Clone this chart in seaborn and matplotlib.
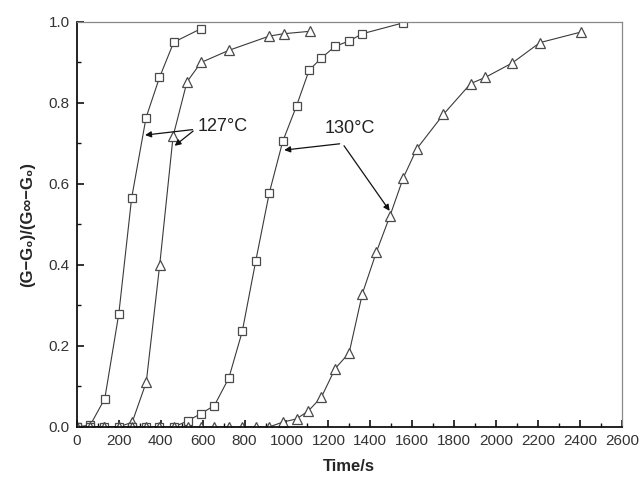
import matplotlib
matplotlib.use("Agg")
import matplotlib.pyplot as plt
import seaborn as sns
import numpy as np
import pandas as pd

# ---- data ----
t_127_sq = [0, 64, 133, 200, 261, 330, 394, 462, 590]
y_127_sq = [0.0, 0.005, 0.07, 0.28, 0.565, 0.764, 0.863, 0.95, 0.983]

t_127_tri = [0, 64, 130, 200, 264, 331, 395, 459, 525, 592, 725, 917, 986, 1112]
y_127_tri = [0.0, 0.0, 0.0, 0.0, 0.012, 0.111, 0.40, 0.718, 0.852, 0.90, 0.93, 0.965, 0.971, 0.977]

t_130_sq = [0, 64, 130, 200, 264, 330, 394, 462, 528, 592, 656, 725, 789, 853, 918, 982, 1048, 1108,
            1167, 1232, 1299, 1362, 1558]
y_130_sq = [0.0, 0.0, 0.0, 0.0, 0.0, 0.0, 0.0, 0.0, 0.015, 0.033, 0.053, 0.121, 0.236, 0.409, 0.578,
            0.705, 0.793, 0.881, 0.911, 0.94, 0.953, 0.971, 0.998]

t_130_tri = [0, 64, 130, 200, 264, 330, 394, 462, 528, 592, 656, 725, 789, 853, 917, 982, 1048, 1105,
             1167, 1232, 1299, 1362, 1429, 1493, 1558, 1622, 1749, 1879, 1948, 2078, 2209, 2404]
y_130_tri = [0.0, 0.0, 0.0, 0.0, 0.0, 0.0, 0.0, 0.0, 0.0, 0.0, 0.0, 0.0, 0.0, 0.0, 0.0, 0.012, 0.02, 0.04,
             0.074, 0.144, 0.183, 0.329, 0.432, 0.52, 0.616, 0.687, 0.772, 0.848, 0.863, 0.899, 0.949, 0.975]

x_ticks = [0, 200, 400, 600, 800, 1000, 1200, 1400, 1600, 1800, 2000, 2200, 2400, 2600]
y_ticks = [0.0, 0.2, 0.4, 0.6, 0.8, 1.0]

sns.set_theme(style="white")
plt.rcParams['font.family'] = ['Liberation Sans', 'DejaVu Sans']

fig = plt.figure(figsize=(6.41, 4.78), dpi=100)
ax = fig.add_axes([0.120, 0.1067, 0.850, 0.8473])

line_col = "#3a3a3a"
edge_col = "#4a4a4a"
series = [
    (t_127_sq, y_127_sq, "s"),
    (t_127_tri, y_127_tri, "^"),
    (t_130_sq, y_130_sq, "s"),
    (t_130_tri, y_130_tri, "^"),
]
for t, y, m in series:
    df = pd.DataFrame({"t": t, "y": y})
    sns.lineplot(data=df, x="t", y="y", ax=ax, color=line_col, linewidth=0.8,
                 marker=m, markersize=6 if m == "s" else 7.5, markerfacecolor="white",
                 markeredgecolor=edge_col, markeredgewidth=0.9, sort=False, legend=False)

ax.set_xlim(0, 2600)
ax.set_ylim(0, 1.0)
ax.set_xticks(x_ticks)
ax.set_xticklabels([str(v) for v in x_ticks])
ax.set_yticks(y_ticks)
ax.set_yticklabels([f"{v:.1f}" for v in y_ticks])
ax.set_xticks(np.arange(100, 2600, 200), minor=True)
ax.set_yticks(np.arange(0.1, 1.0, 0.2), minor=True)
ax.tick_params(axis="both", which="major", direction="in", length=5, width=1.2,
               labelsize=11, colors="#111", labelcolor="#333", pad=5)
ax.tick_params(axis="both", which="minor", direction="in", length=3, width=1.0, colors="#111")
ax.tick_params(top=False, right=False, which="both")
ax.tick_params(axis="x", bottom=True, which="both")
ax.tick_params(axis="y", left=True, which="both")

for s in ["bottom", "left"]:
    ax.spines[s].set_color("#111")
    ax.spines[s].set_linewidth(1.3)
for s in ["top", "right"]:
    ax.spines[s].set_color("#888")
    ax.spines[s].set_linewidth(0.9)

ax.set_xlabel("Time/s", fontsize=12, fontweight="bold", labelpad=8)
ax.set_ylabel("(G\u2212G\u2080)/(G\u221e\u2212G\u2080)", fontsize=12, fontweight="bold", labelpad=10)

# annotations
ax.text(575, 0.742, "127\u00b0C", fontsize=13, va="center", ha="left", color="#222")
ap = dict(arrowstyle="-|>", color="#111", lw=0.9, mutation_scale=9)
ax.annotate("", xy=(312, 0.72), xytext=(565, 0.735), arrowprops=ap)
ax.annotate("", xy=(456, 0.69), xytext=(565, 0.735), arrowprops=ap)

ax.text(1180, 0.737, "130\u00b0C", fontsize=13, va="center", ha="left", color="#222")
ax.annotate("", xy=(976, 0.683), xytext=(1267, 0.70), arrowprops=ap)
ax.annotate("", xy=(1500, 0.528), xytext=(1267, 0.70), arrowprops=ap)

fig.savefig("out.png", dpi=100)
